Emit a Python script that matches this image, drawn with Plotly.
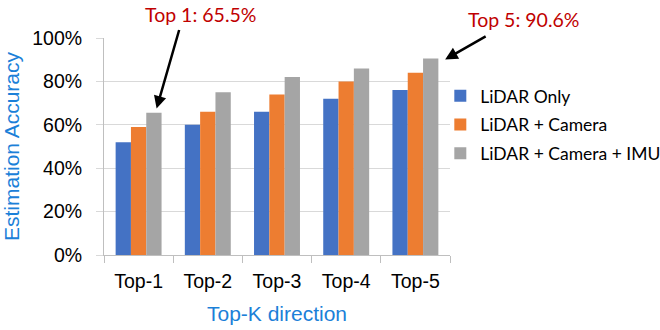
import plotly.graph_objects as go

categories = ["Top-1", "Top-2", "Top-3", "Top-4", "Top-5"]
lidar_only = [0.52, 0.60, 0.66, 0.72, 0.76]
lidar_camera = [0.59, 0.66, 0.74, 0.80, 0.84]
lidar_camera_imu = [0.655, 0.75, 0.82, 0.86, 0.906]
series_names = ["LiDAR Only", "LiDAR + Camera", "LiDAR + Camera + IMU"]
series_colors = ["#4472C4", "#ED7D31", "#A5A5A5"]
y_ticks = [0, 0.2, 0.4, 0.6, 0.8, 1.0]
y_tick_labels = ["0%", "20%", "40%", "60%", "80%", "100%"]

fig = go.Figure()
for i, (name, vals, col) in enumerate(zip(series_names, [lidar_only, lidar_camera, lidar_camera_imu], series_colors)):
    fig.add_trace(go.Bar(x=categories, y=vals, name=name, marker_color=col,
                         marker_line_width=0, legendgroup=f"g{i}"))

grid = "#d9d9d9"
fig.update_layout(
    width=660, height=330,
    margin=dict(l=104, r=210, t=38, b=75, autoexpand=False),
    paper_bgcolor="white", plot_bgcolor="white",
    barmode="group", bargap=0.336, bargroupgap=0,
    font=dict(family="Arial, Liberation Sans, sans-serif", color="black"),
    showlegend=True,
    legend=dict(x=0.972, y=0.6, xanchor="left", yanchor="middle",
                font=dict(family="Lato, sans-serif", size=17.5, color="black"),
                tracegroupgap=3, itemwidth=30, bgcolor="rgba(0,0,0,0)"),
    xaxis=dict(
        range=[-0.5, 4.5], autorange=False,
        showgrid=False, showline=True, linecolor="#bfbfbf", linewidth=1,
        ticks="outside", ticklen=7, tickcolor="#bfbfbf", tickson="boundaries",
        tickfont=dict(size=19.5, color="black"), ticklabelstandoff=9,
        title=dict(text="Top-K direction", font=dict(size=21, color="#1b80d8"), standoff=14),
    ),
    yaxis=dict(
        range=[0, 1.0], autorange=False, tickvals=y_ticks, ticktext=y_tick_labels,
        showgrid=True, gridcolor=grid, gridwidth=1,
        showline=True, linecolor="#bfbfbf", linewidth=1,
        ticks="outside", ticklen=7, tickcolor=grid,
        tickfont=dict(size=19.5, color="black"), ticklabelstandoff=10,
        zeroline=False,
        title=dict(text="Estimation Accuracy", font=dict(size=21, color="#1b80d8"), standoff=10),
    ),
)

# arrows pointing at the highlighted bars
fig.add_annotation(x=0.26, y=lidar_camera_imu[0] + 0.02, xref="x", yref="y",
                   text="", showarrow=True, arrowhead=2, arrowsize=1, arrowwidth=2.5,
                   arrowcolor="black", ax=23, ay=-80, axref="pixel", ayref="pixel")
fig.add_annotation(x=4.43, y=lidar_camera_imu[4] - 0.005, xref="x", yref="y",
                   text="", showarrow=True, arrowhead=2, arrowsize=1, arrowwidth=2.5,
                   arrowcolor="black", ax=42, ay=-24, axref="pixel", ayref="pixel")
# labels
fig.add_annotation(x=(200 - 104) / 346, y=(255 - 15) / 217, xref="paper", yref="paper",
                   xanchor="center", yanchor="middle",
                   text="Top 1: 65.5%", showarrow=False,
                   font=dict(family="Lato, sans-serif", size=19.5, color="#C00000"))
fig.add_annotation(x=(523 - 104) / 346, y=(255 - 19) / 217, xref="paper", yref="paper",
                   xanchor="center", yanchor="middle",
                   text="Top 5: 90.6%", showarrow=False,
                   font=dict(family="Lato, sans-serif", size=19.5, color="#C00000"))

fig.write_html("out.html")
